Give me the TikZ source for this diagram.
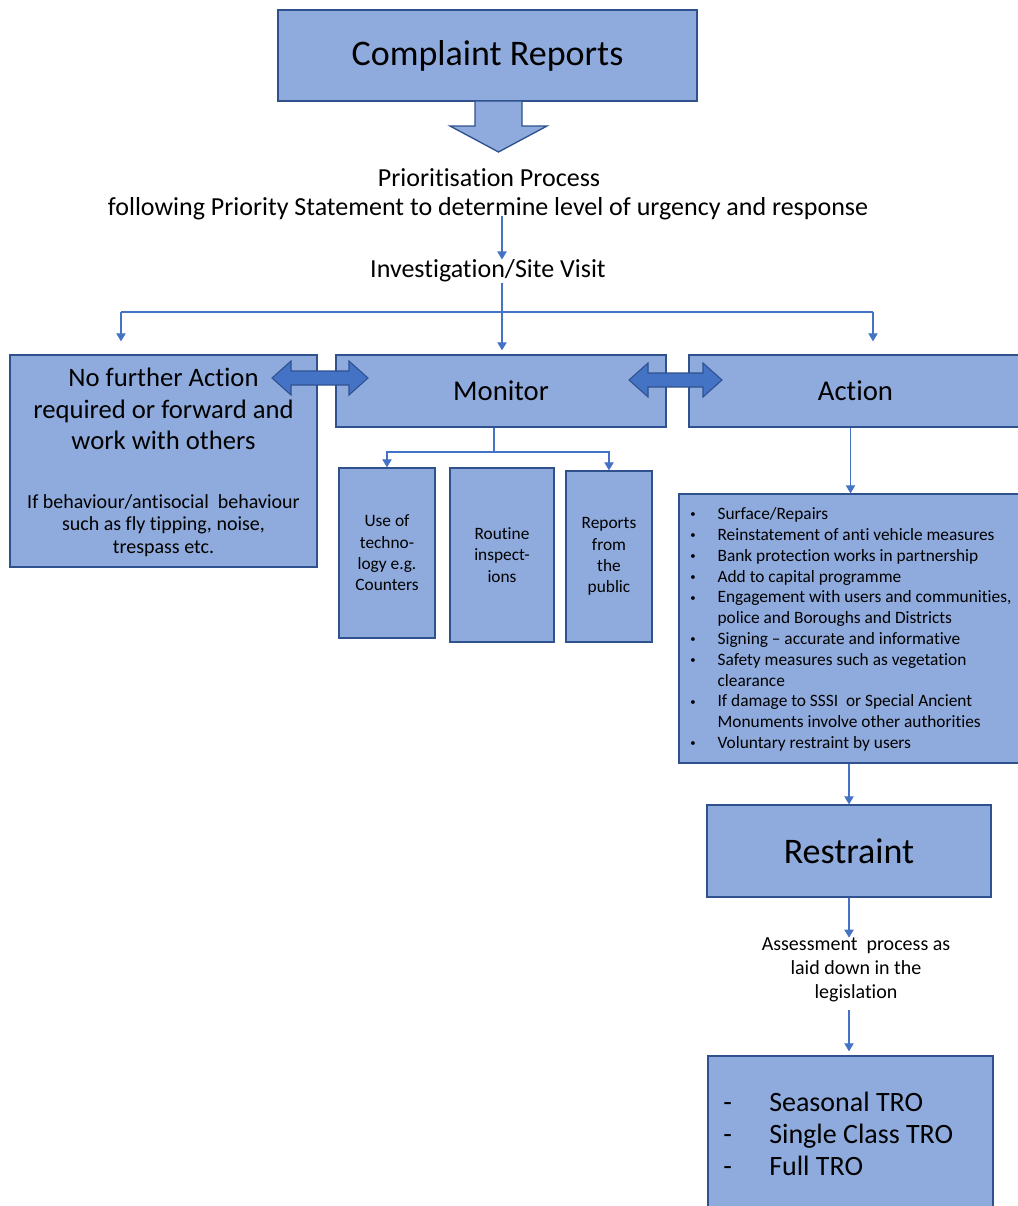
\documentclass[tikz,border=0pt]{standalone}
\usepackage{fontspec}
\setmainfont{Carlito}[Ligatures={TeX,NoCommon}]
\usepackage{tikz}
\usetikzlibrary{arrows.meta}
\usetikzlibrary{calc,positioning}
\definecolor{boxfill}{HTML}{8FAADC}
\definecolor{boxline}{HTML}{2F528F}
\definecolor{linkblue}{HTML}{4472C4}
\newcommand{\fs}[2]{\fontsize{#1}{#2}\selectfont}
\newcommand{\itm}{\makebox[20.5pt][l]{\raisebox{1.3pt}{\fs{8}{8}\textbullet}}}
\tikzset{
  box/.style={draw=boxline, fill=boxfill, line width=1pt, inner sep=0pt, align=center},
  txt/.style={inner sep=0pt, align=center},
  link/.style={draw=linkblue, line width=0.8pt},
  conn/.style={link, -{Triangle[width=7pt,length=6pt]}},
}

\begin{document}
\begin{tikzpicture}[x=0.75pt, y=-0.75pt,
  bigarrow/.style={draw=boxline, fill=boxfill, line width=1pt},
  dblarrow/.style={draw=boxline, fill=linkblue, line width=0.8pt}]
\useasboundingbox (0,0) rectangle (1017,1206);

\node[box, font=\fs{27}{32}, minimum width=314.25pt, minimum height=68.25pt] (report) at (487.5,55.5) {Complaint Reports};
\coordinate (dn) at (498.5,101);
\draw[bigarrow] (dn) ++(-23.5,0) -- ++(0,25) -- ++(-25,0) -- ++(48.5,26) -- ++(48.5,-26) -- ++(-25,0) -- ++(0,-25) -- cycle;

\node[txt, font=\fs{19.5}{23}] (prio) at (489,178) {Prioritisation Process};
\node[txt, font=\fs{19.5}{23}] (follow) at (488,209) {following Priority Statement to determine level of urgency and response};
\node[txt, font=\fs{19.5}{23}] (invest) at (488,271) {Investigation/Site Visit};

\node[box, minimum width=230.25pt, minimum height=159pt] (nfa) at (163.5,461) {};
\node[txt, font=\fs{20}{23.6}] (nfatitle) at (163.5,409) {No further Action\\required or forward and\\work with others};
\node[txt, font=\fs{15}{17}] (nfanote) at (163.5,525.5) {If behaviour/antisocial\ \ behaviour\\such as fly tipping, noise,\\trespass etc.};
\node[box, font=\fs{21.5}{26}, minimum width=247.5pt, minimum height=54pt] (monitor) at (501,391) {Monitor};
\node[box, font=\fs{21.5}{26}, minimum width=249.75pt, minimum height=54pt] (action) at (855.5,391) {Action};

\foreach \xa/\xb/\yc in {272/368/378, 629/722/380}
  \draw[dblarrow] (\xa,\yc) -- (\xa+19,\yc-17) -- (\xa+19,\yc-7) -- (\xb-19,\yc-7) -- (\xb-19,\yc-17) -- (\xb,\yc) -- (\xb-19,\yc+17) -- (\xb-19,\yc+7) -- (\xa+19,\yc+7) -- (\xa+19,\yc+17) -- cycle;

\foreach \nm/\cx/\cy/\w/\h/\txt in {tech/387/553/72/127.5/{Use of\\techno-\\logy e.g.\\Counters}, routine/502/555/78/130.5/{Routine\\inspect-\\ions}, public/609/556.5/64.5/128.25/{Reports\\from\\the\\public}}
  \node[box, font=\fs{13}{16}, minimum width=\w pt, minimum height=\h pt] (\nm) at (\cx,\cy) {\txt};

\node[box, minimum width=257.25pt, minimum height=201.75pt] (list) at (850.5,628.5) {};
\node[txt, anchor=west, align=left, font=\fs{13}{15.6}] (acts) at (690,629.5) {%
\itm Surface/Repairs\\
\itm Reinstatement of anti vehicle measures\\
\itm Bank protection works in partnership\\
\itm Add to capital programme\\
\itm Engagement with users and communities,\\
\hspace*{20.5pt}police and Boroughs and Districts\\
\itm Signing -- accurate and informative\\
\itm Safety measures such as vegetation\\
\hspace*{20.5pt}clearance\\
\itm If damage to SSSI\ \ or Special Ancient\\
\hspace*{20.5pt}Monuments involve other authorities\\
\itm Voluntary restraint by users};

\node[box, font=\fs{27}{32}, minimum width=213pt, minimum height=69pt] (restraint) at (849,851) {Restraint};
\node[txt, font=\fs{15}{18}] (assess) at (856,970) {Assessment\ \ process as\\laid down in the\\legislation};
\node[box, minimum width=213.75pt, minimum height=126.75pt] (tro) at (850.5,1140.5) {};
\node[txt, anchor=west, align=left, font=\fs{21}{24}] (tros) at (723,1134) {%
\makebox[34.5pt][l]{-}Seasonal TRO\\
\makebox[34.5pt][l]{-}Single Class TRO\\
\makebox[34.5pt][l]{-}Full TRO};

\coordinate (ihub) at (502,312);
\coordinate (lhub) at (121,312);
\coordinate (rhub) at (873,312);
\coordinate (mhub) at (494,452);
\draw[conn] (follow.base -| ihub) -- (invest.north -| ihub);
\draw[conn, shorten >=3pt] (invest.south -| ihub) -- (monitor.north -| ihub);
\draw[link] (lhub) -- (rhub);
\draw[conn, shorten >=9.75pt] (lhub) -- (lhub |- nfa.north);
\draw[conn, shorten >=9.75pt] (rhub) -- (rhub |- action.north);
\draw[link] (mhub |- monitor.south) -- (mhub);
\draw[conn] (mhub) -| (tech.north);
\draw[conn] (mhub) -| (public.north);
\draw[conn] (list.north |- action.south) -- (list.north);
\draw[conn] (restraint.north |- list.south) -- (restraint.north);
\draw[conn] (restraint.south) -- (restraint.south |- assess.north);
\draw[conn, shorten <=6pt, shorten >=3pt] (restraint.south |- assess.south) -- (restraint.south |- tro.north);
\end{tikzpicture}
\end{document}
